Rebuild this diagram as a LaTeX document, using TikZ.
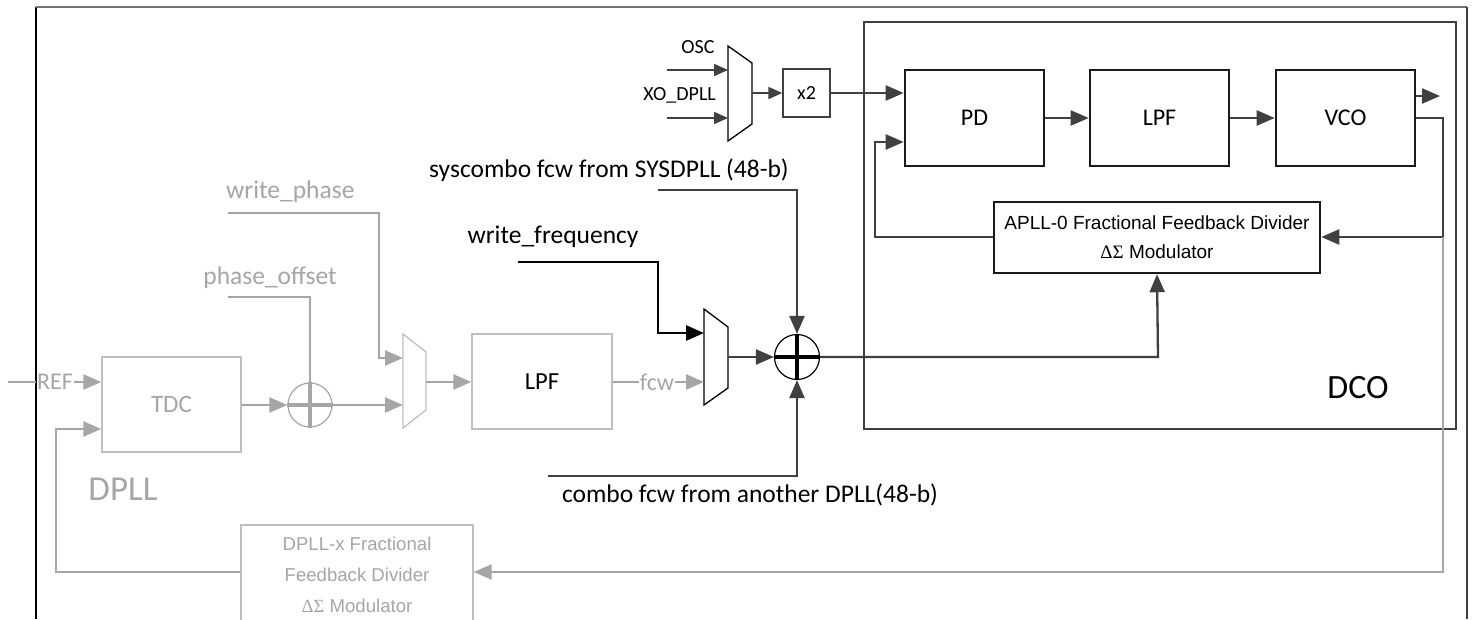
\documentclass[tikz,border=0pt]{standalone}
\usepackage{fontspec}
\setmainfont{Carlito}
\newfontfamily\arialf{Liberation Sans}
\newfontfamily\greekf{Liberation Serif}
\usetikzlibrary{arrows.meta}
\definecolor{dkc}{HTML}{404040}
\definecolor{grc}{HTML}{A6A6A6}
\definecolor{grb}{HTML}{BFBFBF}
\definecolor{boxc}{HTML}{1A1A1A}
\begin{document}
\begin{tikzpicture}[x=1pt,y=-1pt,
  tipbig/.style={-{Triangle[length=18pt,width=15pt]}},
  tipsmall/.style={-{Triangle[length=14pt,width=12pt]}},
  dline/.style={draw=dkc,line width=2.3pt},
  thinline/.style={draw=dkc,line width=1.6pt},
  gline/.style={draw=grc,line width=2.4pt},
  bline/.style={draw=black,line width=2.7pt},
  dbox/.style={draw=boxc,line width=2.6pt,minimum width=139pt,minimum height=96pt,inner sep=0pt,font=\fontsize{24}{28}\selectfont},
  gbox/.style={draw=grb,line width=1.4pt,inner sep=0pt},
  lab/.style={font=\fontsize{25.5}{30}\selectfont,inner sep=0pt},
  glab/.style={lab,text=grc},
  smlab/.style={font=\fontsize{20}{24}\selectfont,inner sep=0pt},
  muxd/.style={draw=black,line width=1.3pt},
  muxg/.style={draw=grb,line width=1.3pt},
  divtext/.style={align=center,font=\arialf\fontsize{19}{29}\selectfont}
]
\clip (0,0) rectangle (1473,619);
\fill[white] (0,0) rectangle (1473,619);

% outer frame
\draw[black,line width=1.5pt] (36,7) -- (36,619);
\draw[black!55,line width=2pt] (36,7) -- (1467,7);
\draw[dkc,line width=1.5pt] (1467,7) -- (1467,619);

% DCO box
\draw[dkc,line width=1.2pt] (864,22) rectangle (1456,429);
\node[font=\fontsize{34}{40}\selectfont,inner sep=0pt] (dcolab) at (1358,388) {DCO};

% DCO blocks
\node[dbox] (pd) at (974.5,118) {PD};
\node[dbox] (lpf) at (1159.5,118) {LPF};
\node[dbox] (vco) at (1345.5,118) {VCO};
\node[draw=boxc,line width=2.5pt,minimum width=326pt,minimum height=71pt,inner sep=0pt,divtext] (apll) at (1157,237.5)
  {APLL-0 Fractional Feedback Divider\\{\greekf ΔΣ} Modulator};
\node[draw=dkc,line width=1.3pt,minimum width=47pt,minimum height=48pt,inner sep=0pt,smlab] (x2) at (806.5,93) {x2};

% mux 1
\draw[muxd] (728,46) -- (752,63) -- (752,124) -- (728,141) -- cycle;
\coordinate (m1a) at (728,70);
\coordinate (m1b) at (728,118);
\coordinate (m1o) at (752,93);
\coordinate (m1as) at (667,70);
\coordinate (m1bs) at (667,118);
\node[smlab] (osc) at (698,47) {OSC};
\node[smlab,anchor=east] (xo) at (716,95) {XO\_DPLL};
\draw[thinline,tipsmall] (m1as) -- (m1a);
\draw[thinline,tipsmall] (m1bs) -- (m1b);
\draw[thinline,tipsmall] (m1o) -- (x2.west);
\draw[dline,tipbig] (x2.east) -- (x2.east -| pd.west);

% DCO connections
\draw[dline,tipbig] (pd) -- (lpf);
\draw[dline,tipbig] (lpf) -- (vco);
\coordinate (vout) at (1440,96);
\draw[dline,tipbig] (vco.east |- vout) -- (vout);
\coordinate (fbx) at (1443,118);
\coordinate (fbturn) at (1443,237);
\draw[dline,tipbig] (vco.east) -- (fbx) -- (fbturn) -- (apll.east |- fbturn);
\coordinate (pdfb) at (875,237);
\coordinate (pdin2) at (875,142);
\draw[dline,tipbig] (apll.west |- pdfb) -- (pdfb) -- (pdin2) -- (pdin2 -| pd.west);

% main summing node
\node[circle,draw=black,line width=1.2pt,minimum size=45pt,inner sep=0pt] (s1) at (797,357) {};
\draw[black,line width=3.2pt] (s1.north) -- (s1.south) (s1.west) -- (s1.east);

% mux 2
\draw[muxd] (704,309) -- (728,327) -- (728,388) -- (704,405) -- cycle;
\coordinate (m2a) at (704,333);
\coordinate (m2b) at (704,382);
\coordinate (m2o) at (728,357);
\draw[dline,tipbig] (m2o) -- (s1.west);

% syscombo
\node[lab] (sys) at (609,170) {syscombo fcw from SYSDPLL (48-b)};
\coordinate (syss) at (658,190);
\coordinate (sysc) at (797,190);
\draw[dline,tipbig] (syss) -- (sysc) -- (s1.north);

% write_frequency
\node[lab] (wf) at (553,237) {write\_frequency};
\coordinate (wfs) at (518,262);
\coordinate (wfc) at (658,262);
\draw[bline,-{Triangle[length=18pt,width=15pt]}] (wfs) -- (wfc) -- (wfc |- m2a) -- (m2a);

% combo
\node[lab] (combo) at (750,495) {combo fcw from another DPLL(48-b)};
\coordinate (cbs) at (548,476);
\coordinate (cbc) at (797,476);
\draw[dline,tipbig] (cbs) -- (cbc) -- (s1.south);

% sum to APLL divider
\coordinate (s1r) at (1158,357);
\draw[dline,tipbig] (s1.east) -- (s1r) -- (apll.south);

% ===== DPLL (gray) =====
\node[gbox,minimum width=139pt,minimum height=95pt,font=\fontsize{25}{30}\selectfont,text=grc] (tdc) at (171.5,404.5) {TDC};
\node[gbox,minimum width=140pt,minimum height=95pt,font=\fontsize{24.5}{30}\selectfont] (glpf) at (542,381.5) {LPF};
\node[gbox,minimum width=232pt,minimum height=100pt,divtext,text=grc,font=\arialf\fontsize{18.6}{31}\selectfont] (dpx) at (357,575)
  {DPLL-x Fractional\\Feedback Divider\\{\greekf ΔΣ} Modulator};
\node[glab,font=\fontsize{35}{40}\selectfont] (dplllab) at (123,489) {DPLL};

% REF
\coordinate (refs) at (8,382);
\node[glab,font=\fontsize{24}{28}\selectfont,inner sep=1pt] (ref) at (55,382) {REF};
\draw[gline] (refs) -- (ref.west);
\draw[gline,tipbig] (ref.east) -- (ref.east -| tdc.west);

% sum2
\node[circle,draw=grc,line width=1.2pt,minimum size=44pt,inner sep=0pt] (s2) at (310,405) {};
\draw[grc,line width=3.2pt] (s2.north) -- (s2.south) (s2.west) -- (s2.east);
\draw[gline,tipbig] (tdc.east |- s2) -- (s2.west);

% mux 3
\draw[muxg] (403,334) -- (426,352) -- (426,410) -- (403,428) -- cycle;
\coordinate (m3a) at (403,358);
\coordinate (m3b) at (403,405);
\coordinate (m3o) at (426,382);
\draw[gline,tipbig] (s2.east) -- (m3b);
\draw[gline,tipbig] (m3o) -- (m3o -| glpf.west);

% write_phase
\node[glab,anchor=west] (wp) at (226,192) {write\_phase};
\coordinate (wps) at (228,213);
\coordinate (wpc) at (379,213);
\draw[gline,tipbig] (wps) -- (wpc) -- (wpc |- m3a) -- (m3a);

% phase_offset
\node[glab,anchor=east] (po) at (337,278) {phase\_offset};
\coordinate (pos) at (228,297);
\coordinate (poc) at (310,297);
\draw[gline] (pos) -- (poc) -- (s2.north);

% fcw
\node[glab,font=\fontsize{24}{28}\selectfont,inner sep=1pt] (fcw) at (657,382) {fcw};
\draw[gline] (glpf.east |- fcw) -- (fcw.west);
\draw[gline,tipbig] (fcw.east) -- (m2b);

% feedback to TDC
\coordinate (fbl) at (56,572);
\coordinate (fbu) at (56,429);
\draw[gline,tipbig] (dpx.west |- fbl) -- (fbl) -- (fbu) -- (fbu -| tdc.west);

% VCO to DPLL-x divider
\coordinate (gfb) at (1443,572);
\draw[gline,tipbig] (fbturn) -- (gfb) -- (gfb -| dpx.east);
\end{tikzpicture}
\end{document}
